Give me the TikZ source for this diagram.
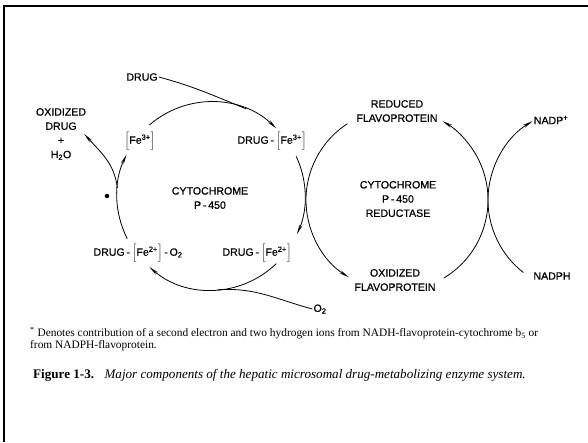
\documentclass[tikz,border=0pt]{standalone}
\usepackage{fontspec}
\setmainfont{Liberation Serif}
\newfontfamily\lblfont[FakeBold=0.6]{Liberation Sans}
\usepackage{tikz}
\usetikzlibrary{arrows.meta}
\tikzset{
    lbl/.style={font=\lblfont\fontsize{10.6}{14.2}\selectfont, align=center, inner sep=1pt},
    flow/.style={line width=0.8pt, -{Stealth[length=10pt,width=3.2pt]}},
    plain/.style={line width=0.8pt}}
\newcommand{\iron}[1]{$\Bigl[$Fe\textsuperscript{#1}$\Bigr]$}

\begin{document}
\begin{tikzpicture}[x=1pt,y=1pt]
                \useasboundingbox (0,0) rectangle (588,-442);
                \fill[white] (0,0) rectangle (588,-442);
                \draw[line width=2.6pt] (4,-442) -- (4,-6) -- (588,-6);

                    \coordinate (cyt) at (211,-196);
                    \coordinate (red) at (397,-200);
                    \coordinate (nad) at (580,-200);

                    \node[lbl] (drug) at (142,-77) {DRUG};
                    \node[lbl] (oxdrug) at (61,-134) {OXIDIZED\\DRUG\\+\\H\textsubscript{2}O};
                    \node[lbl] (fe3) at (140,-141) {\iron{3+}};
                    \node[lbl] (drugfe3) at (272,-141) {DRUG\,-\,\iron{3+}};
                    \node[lbl] (cytlbl) at (210,-198) {CYTOCHROME\\P\,-\,450};
                    \node[lbl] (drugfe2o2) at (138,-253) {DRUG\,-\,\iron{2+}\,-\,O\textsubscript{2}};
                    \node[lbl] (drugfe2) at (257,-253) {DRUG\,-\,\iron{2+}};
                    \node[lbl] (otwo) at (320,-309) {O\textsubscript{2}};
                    \node[circle, fill=black, inner sep=1.6pt] (star) at (107,-196) {};

                    \node[lbl] (redflav) at (397,-111) {REDUCED\\FLAVOPROTEIN};
                    \node[lbl] (redlbl) at (398,-199) {CYTOCHROME\\P\,-\,450\\REDUCTASE};
                    \node[lbl] (oxflav) at (395,-280) {OXIDIZED\\FLAVOPROTEIN};
                    \node[lbl] (nadp) at (551,-120) {NADP\textsuperscript{+}};
                    \node[lbl] (nadph) at (552,-276) {NADPH};

                    \draw[flow] ([shift={(131:94)}]cyt) arc[start angle=131, end angle=46, radius=94];
                    \draw[flow] ([shift={(25:94)}]cyt) arc[start angle=25, end angle=-24, radius=94];
                    \draw[flow] ([shift={(-46:94)}]cyt) arc[start angle=-46, end angle=-131, radius=94];
                    \draw[flow] ([shift={(207:94)}]cyt) arc[start angle=207, end angle=154, radius=94];
                    \draw[plain] (drug.east) to [out=-15, in=158] ([shift={(68:94)}]cyt);
                    \draw[plain] (otwo.west) to [out=165, in=4] ([shift={(-86:94)}]cyt);
                    \draw[flow] ([shift={(175:94)}]cyt) to [out=97, in=-48] ([xshift=-3pt]oxdrug.east);

                    \draw[flow] ([shift={(123:91)}]red) arc[start angle=123, end angle=238, radius=91];
                    \draw[flow] ([shift={(-59:91)}]red) arc[start angle=-59, end angle=60, radius=91];
                    \draw[flow] ([shift={(232:92)}]nad) arc[start angle=232, end angle=121, radius=92];

                    \node[anchor=north west, align=left, inner sep=0pt, font=\fontsize{11.4}{12}\selectfont] (note) at (30,-327)
                        {\textsuperscript{*} Denotes contribution of a second electron and two hydrogen ions from NADH-flavoprotein-cytochrome b\textsubscript{5} or\\from NADPH-flavoprotein.};
                    \node[anchor=west, inner sep=0pt, font=\fontsize{13.1}{14}\selectfont] (caption) at (33,-375)
                        {\textbf{Figure 1-3.}\hspace{0.8em}\textit{Major components of the hepatic microsomal drug-metabolizing enzyme system.}};

\end{tikzpicture}
\end{document}
